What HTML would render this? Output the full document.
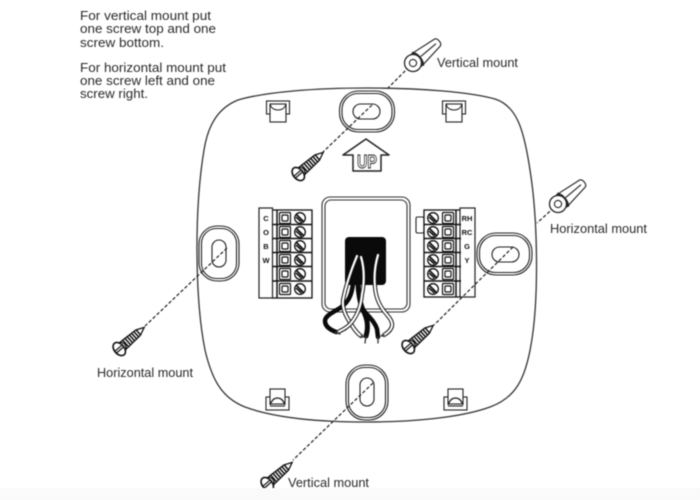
<!DOCTYPE html>
<html>
<head>
<meta charset="utf-8">
<style>
html,body{margin:0;padding:0;background:#fff;width:700px;height:500px;overflow:hidden}
svg{display:block;filter:blur(.4px)}
text{font-family:"Liberation Sans",sans-serif;fill:#2a2a2a}
.t{font-size:12.5px}
.l{font-size:12.5px}
.k{font-size:7.5px;font-weight:bold;fill:#111;text-anchor:middle}
.d{fill:none;stroke:#222;stroke-width:1.2;stroke-dasharray:3.5 2}
</style>
</head>
<body>
<svg width="700" height="500" viewBox="0 0 700 500" xmlns="http://www.w3.org/2000/svg">
<defs>
<g id="screw">
  <path d="M4 -4.500 L11 -4.500 L28 -3.500 L36 0 L28 3.500 L11 4.500 L4 4.500Z" fill="#fff" stroke="#111" stroke-width="1.300"/>
  <path d="M11.500 -4.500V4.500M14.300 -4.500V4.500M17.100 -4.500V4.500M19.900 -4V4M22.700 -4V4M25.500 -4V4M28.300 -3.500V3.500" stroke="#111" stroke-width="1.500"/>
  <path d="M6 -5 C9 -5 10 -3 10.500 0 C10 3 9 5 6 5Z" fill="#fff" stroke="#111" stroke-width="1.300"/>
  <ellipse cx="3" cy="0" rx="5" ry="7.500" fill="#fff" stroke="#111" stroke-width="1.600"/>
  <path d="M-1.500 -1.200H7.500M-1.500 1.200H7.500" stroke="#111" stroke-width="1.200"/>
</g>
<g id="anchor">
  <path d="M5 -8 L32 -4.500 C35 -3.500 35 3.500 32 4.500 L5 8Z" fill="#fff" stroke="#222" stroke-width="1.100"/>
  <path d="M10 0 L30 0" stroke="#222" stroke-width="1.100"/>
  <path d="M6 -8.500 C9.500 -4 9.500 4 6 8.500" fill="none" stroke="#222" stroke-width="2.400"/>
  <circle cx="0" cy="0" r="8.500" fill="#fff" stroke="#222" stroke-width="1.300"/>
  <circle cx="0" cy="0" r="3.600" fill="#fff" stroke="#222" stroke-width="1.100"/>
</g>
<g id="sq">
  <rect x="-5.500" y="-5.500" width="11" height="11" rx="1" fill="#fff" stroke="#111" stroke-width="1.200"/>
  <rect x="-3" y="-3" width="6" height="6" rx="1" fill="#fff" stroke="#111" stroke-width="1.200"/>
</g>
<g id="cir">
  <circle r="5.300" fill="#fff" stroke="#111" stroke-width="1.300"/>
  <path d="M-3.500 -3.500L3.500 3.500M-4 -1L1.500 4" stroke="#111" stroke-width="1.600" fill="none"/>
</g>
<g id="tabT">
  <rect x="0" y="0" width="23" height="13" fill="#fff" stroke="#222" stroke-width="1.100"/>
  <rect x="3.500" y="3" width="16" height="18" fill="#fff" stroke="#222" stroke-width="1.100"/>
  <path d="M3.500 3 C5 8 8 9 11.500 9 C15 9 18 8 19.500 3" fill="none" stroke="#222" stroke-width="1.100"/>
</g>
<g id="tabB">
  <rect x="0" y="8" width="23" height="13" fill="#fff" stroke="#222" stroke-width="1.100"/>
  <rect x="4" y="0" width="15" height="15" fill="#fff" stroke="#222" stroke-width="1.100"/>
  <path d="M4 16 C6 11 8 9 11.500 9 C15 9 17 11 19 16" fill="none" stroke="#222" stroke-width="1.300"/>
  <path d="M4 17H19" stroke="#222" stroke-width="1.100"/>
</g>
</defs>

<rect width="700" height="500" fill="#fff"/>

<!-- instructions -->
<text class="t" x="80" y="20" textLength="131" lengthAdjust="spacingAndGlyphs">For vertical mount put</text>
<text class="t" x="80" y="33" textLength="136" lengthAdjust="spacingAndGlyphs">one screw top and one</text>
<text class="t" x="80" y="47" textLength="84" lengthAdjust="spacingAndGlyphs">screw bottom.</text>
<text class="t" x="80" y="72" textLength="146" lengthAdjust="spacingAndGlyphs">For horizontal mount put</text>
<text class="t" x="80" y="85" textLength="135" lengthAdjust="spacingAndGlyphs">one screw left and one</text>
<text class="t" x="80" y="98" textLength="68" lengthAdjust="spacingAndGlyphs">screw right.</text>

<!-- plate -->
<path d="M367 88 C420 88 470 92 495 99 C517 106 524 130 530 170 C538 220 539 300 531 345 C525 380 515 398 490 407 C460 418 410 422 367 422 C320 422 275 418 245 407 C222 398 212 380 205 350 C195 300 194 210 204 150 C208 125 218 108 238 100 C265 92 315 88 367 88Z" fill="#fff" stroke="#333" stroke-width="1.300"/>

<!-- corner tabs -->
<use href="#tabT" x="266.500" y="101"/>
<use href="#tabT" x="442.500" y="101"/>
<use href="#tabB" x="266" y="389"/>
<use href="#tabB" x="444" y="389"/>

<!-- mount slots -->
<g fill="#fff" stroke="#222">
  <rect x="339.500" y="91" width="55" height="41" rx="19" stroke-width="1.100"/>
  <rect x="342" y="93.500" width="50" height="36" rx="16" stroke-width="1.100"/>
  <rect x="353" y="104" width="27" height="15" rx="7.500" stroke-width="1.100"/>

  <rect x="199" y="226" width="40" height="55" rx="18" stroke-width="1.100"/>
  <rect x="201.500" y="228.500" width="35" height="50" rx="15" stroke-width="1.100"/>
  <rect x="212" y="240" width="14" height="27" rx="7" stroke-width="1.100"/>

  <rect x="477" y="233" width="55" height="42" rx="19" stroke-width="1.100"/>
  <rect x="479.500" y="235.500" width="50" height="37" rx="16" stroke-width="1.100"/>
  <rect x="492" y="247" width="27" height="15" rx="7.500" stroke-width="1.100"/>

  <rect x="346" y="365" width="42" height="55" rx="19" stroke-width="1.100"/>
  <rect x="348.500" y="367.500" width="37" height="50" rx="16" stroke-width="1.100"/>
  <rect x="360" y="378" width="14" height="28" rx="7" stroke-width="1.100"/>
</g>

<!-- UP arrow -->
<path d="M366 139 L389 155 L381 155 L381 171 L353 171 L353 155 L343 155Z" fill="#fff" stroke="#222" stroke-width="1.500" stroke-linejoin="round"/>
<text x="357" y="168" font-size="18" font-weight="bold" textLength="20" lengthAdjust="spacingAndGlyphs" style="fill:#fff;stroke:#222;stroke-width:.9">UP</text>

<!-- center box -->
<rect x="322" y="197" width="88" height="115" rx="8" fill="#fff" stroke="#333" stroke-width="1.100"/>
<rect x="325" y="200" width="82" height="109" rx="6" fill="#fff" stroke="#333" stroke-width="1.100"/>

<!-- left terminal -->
<rect x="272" y="210" width="40" height="88" fill="#fff" stroke="#111" stroke-width="1.300"/>
<rect x="259" y="208" width="13.500" height="90" fill="#fff" stroke="#222" stroke-width="1.200"/>
<path d="M272 224.500H312M272 238.500H312M272 252.500H312M272 266.500H312M272 281H312M277 210V298" stroke="#111" stroke-width="1.500" fill="none"/>
<use href="#sq" x="285" y="218"/><use href="#cir" x="300" y="218"/>
<use href="#sq" x="285" y="232"/><use href="#cir" x="300" y="232"/>
<use href="#sq" x="285" y="246"/><use href="#cir" x="300" y="246"/>
<use href="#sq" x="285" y="260"/><use href="#cir" x="300" y="260"/>
<use href="#sq" x="285" y="274"/><use href="#cir" x="300" y="274"/>
<use href="#sq" x="285" y="289"/><use href="#cir" x="300" y="289"/>
<text class="k" x="266" y="221">C</text>
<text class="k" x="266" y="235">O</text>
<text class="k" x="266" y="249">B</text>
<text class="k" x="266" y="263">W</text>

<!-- right terminal -->
<rect x="416" y="217" width="8" height="16" rx="1.500" fill="#fff" stroke="#222" stroke-width="1.100"/>
<rect x="424" y="210" width="37" height="87" fill="#fff" stroke="#111" stroke-width="1.300"/>
<rect x="460" y="208" width="15" height="89" fill="#fff" stroke="#222" stroke-width="1.200"/>
<path d="M424 224.500H461M424 238.500H461M424 252.500H461M424 266.500H461M424 281H461M456 210V297" stroke="#111" stroke-width="1.500" fill="none"/>
<use href="#cir" x="433" y="218"/><use href="#sq" x="448" y="218"/>
<use href="#cir" x="433" y="232"/><use href="#sq" x="448" y="232"/>
<use href="#cir" x="433" y="246"/><use href="#sq" x="448" y="246"/>
<use href="#cir" x="433" y="260"/><use href="#sq" x="448" y="260"/>
<use href="#cir" x="433" y="274"/><use href="#sq" x="448" y="274"/>
<use href="#cir" x="433" y="289"/><use href="#sq" x="448" y="289"/>
<text class="k" x="467" y="221">RH</text>
<text class="k" x="467" y="235">RC</text>
<text class="k" x="467" y="249">G</text>
<text class="k" x="467" y="263">Y</text>

<!-- black block -->
<rect x="345" y="237" width="41" height="48" rx="4" fill="#0a0a0a"/>

<!-- wires -->
<g fill="none" stroke-linecap="round">
  <path d="M353 283 C352 294 349 302 340 308 C332 313 325 316 325 321 C325 327 331 330 336 332" stroke="#0a0a0a" stroke-width="4.500"/>
  <path d="M358 283 C358 292 360 303 363 310 C367 318 369 326 366 336" stroke="#0a0a0a" stroke-width="5"/>
  <path d="M364 311 C369 317 375 322 377 329 L378 337" stroke="#0a0a0a" stroke-width="4.500"/>
  <path d="M366 336 L365 343M378 337L378 343M336 332L340 334" stroke="#333" stroke-width="1.300"/>

  <path d="M357 256 C352 268 346 285 343 300 C342 310 347 318 351 324 C354 329 358 334 361 336" stroke="#111" stroke-width="4.200"/>
  <path d="M357 256 C352 268 346 285 343 300 C342 310 347 318 351 324 C354 329 358 334 361 336" stroke="#fff" stroke-width="2.200"/>
  <path d="M361 257 C365 270 364 285 362 294 C361 306 357 316 351 323 C347 328 342 330 338 332" stroke="#111" stroke-width="4.200"/>
  <path d="M361 257 C365 270 364 285 362 294 C361 306 357 316 351 323 C347 328 342 330 338 332" stroke="#fff" stroke-width="2.200"/>
  <path d="M378 255 C375 265 374 277 375 287 C376 300 381 308 388 316 C394 323 394 329 384 335" stroke="#111" stroke-width="4.200"/>
  <path d="M378 255 C375 265 374 277 375 287 C376 300 381 308 388 316 C394 323 394 329 384 335" stroke="#fff" stroke-width="2.200"/>
  <path d="M361 336L364 337M384 335L381 336M338 332L335 333" stroke="#333" stroke-width="1.300"/>
</g>

<!-- dashed guides -->
<path class="d" d="M413 63L388 88"/>
<path class="d" d="M372 105L323 152"/>
<path class="d" d="M558 204L537 223"/>
<path class="d" d="M513 247L434 325"/>
<path class="d" d="M227 248L145 326"/>
<path class="d" d="M373 383L293 460"/>

<!-- screws -->
<use href="#screw" transform="translate(296 176) rotate(-41)"/>
<use href="#screw" transform="translate(406 349) rotate(-41)"/>
<use href="#screw" transform="translate(117 351) rotate(-41)"/>
<use href="#screw" transform="translate(265 486) rotate(-41)"/>

<!-- anchors -->
<use href="#anchor" transform="translate(413 63) rotate(-40)"/>
<use href="#anchor" transform="translate(558 204) rotate(-40)"/>

<!-- bottom band -->
<rect x="0" y="488" width="700" height="12" fill="#fafafa"/>

<!-- labels -->
<text class="l" x="437" y="67" textLength="81" lengthAdjust="spacingAndGlyphs">Vertical mount</text>
<text class="l" x="550" y="233" textLength="97" lengthAdjust="spacingAndGlyphs">Horizontal mount</text>
<text class="l" x="97" y="377" textLength="96" lengthAdjust="spacingAndGlyphs">Horizontal mount</text>
<text class="l" x="288" y="487" textLength="81" lengthAdjust="spacingAndGlyphs">Vertical mount</text>
</svg>
</body>
</html>
